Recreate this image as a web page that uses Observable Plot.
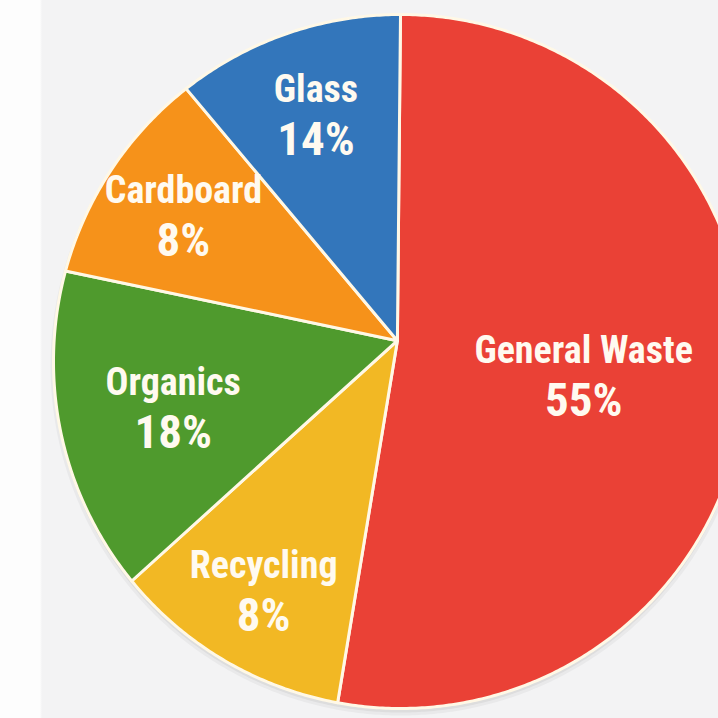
<!DOCTYPE html>
<html><head><meta charset="utf-8">
<script src="https://cdn.jsdelivr.net/npm/d3@7"></script>
<script src="https://cdn.jsdelivr.net/npm/@observablehq/plot@0.6"></script>
<style>
html,body{margin:0;padding:0;background:#f3f3f4;}
#chart svg{display:block;background:linear-gradient(to right,#fdfdfd 0,#fdfdfd 40px,#f3f3f4 42px);}
</style></head><body><div id="chart"></div>
<script>
// Data (clockwise from 12 o'clock)
const categories = ["General Waste", "Recycling", "Organics", "Cardboard", "Glass"];
const percentLabels = [55, 8, 18, 8, 14];          // printed values
const sliceShares = [52.9, 11.2, 15.1, 10.2, 10.6]; // slice sizes as drawn
const colors = ["#ea4136", "#f2b824", "#4f9a2d", "#f6921a", "#3376bb"];

// Layout
const W = 718, H = 718;
const CX = 400, CY = 361, R = 347;   // circle centre & radius in px
const APEX = [-0.009, 0.06];          // where the slice edges meet (unit coords)
const labelRadius = [0.53, 0.775, 0.67, 0.75, 0.745]; // label distance from centre (fraction of radius)
const FONT = "'Liberation Sans Narrow','Roboto Condensed','DejaVu Sans Condensed','Arial Narrow',sans-serif";
const TXT = "#fffaf0";

const rows = categories.map((name, i) => ({name, pct: percentLabels[i], share: sliceShares[i]}));
const arcs = d3.pie().sort(null).value(d => d.share)(rows);

const pts = [];
arcs.forEach(a => {
  const n = Math.max(2, Math.ceil((a.endAngle - a.startAngle) / (Math.PI / 360)));
  pts.push({name: a.data.name, x: APEX[0], y: APEX[1]});
  for (let k = 0; k <= n; k++) {
    const t = a.startAngle + (a.endAngle - a.startAngle) * k / n;
    pts.push({name: a.data.name, x: Math.sin(t), y: Math.cos(t)});
  }
  pts.push({name: a.data.name, x: APEX[0], y: APEX[1]});
});

const ring = d3.range(0, 721).map(k => ({x: Math.sin(k * Math.PI / 360), y: Math.cos(k * Math.PI / 360)}));

const labels = arcs.map((a, i) => {
  const m = (a.startAngle + a.endAngle) / 2;
  const r = labelRadius[i];
  return {name: a.data.name, pct: a.data.pct + "%", x: r * Math.sin(m), y: r * Math.cos(m)};
});

const chart = Plot.plot({
  width: W, height: H,
  margin: 0,
  x: {domain: [-CX / R, (W - CX) / R], range: [0, W], axis: null},
  y: {domain: [CY / R, (CY - H) / R], range: [0, H], axis: null},
  color: {domain: categories, range: colors},
  marks: [
    Plot.line(ring, {x: "x", y: "y", fill: "#000", fillOpacity: 0.05, stroke: "#000", strokeOpacity: 0.04, strokeWidth: 6, dy: 4}),
    Plot.line(pts, {x: "x", y: "y", z: "name", fill: "name", stroke: "#fff8e6", strokeWidth: 3, strokeLinejoin: "round", curve: "linear"}),
    Plot.text(labels, {x: "x", y: "y", text: "name", fill: TXT, fontSize: 38, fontWeight: 700, fontFamily: FONT, dy: -27}),
    Plot.text(labels, {x: "x", y: "y", text: "pct", fill: TXT, fontSize: 47, fontWeight: 700, fontFamily: FONT, dy: 23})
  ]
});
document.getElementById("chart").append(chart);
</script></body></html>
